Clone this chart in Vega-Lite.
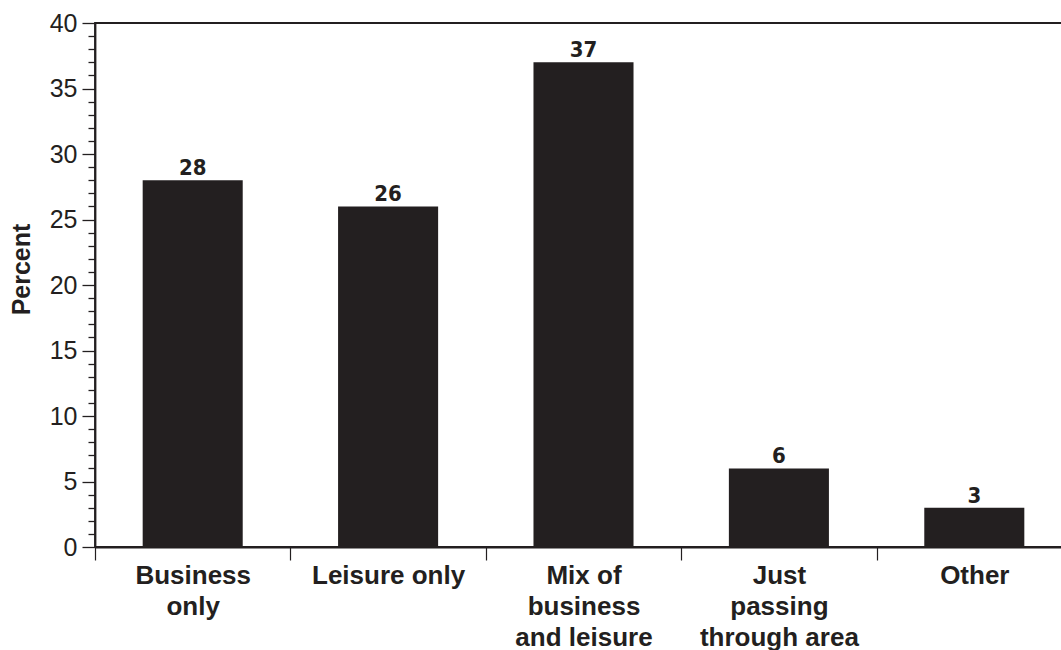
{
  "$schema": "https://vega.github.io/schema/vega-lite/v6.json",
  "autosize": "none",
  "padding": {"left": 95, "top": 23, "right": 0, "bottom": 104},
  "width": 968,
  "height": 524,
  "background": "white",
  "config": {
    "view": {"stroke": "#231f20", "strokeWidth": 1.8},
    "font": "Liberation Sans"
  },
  "data": {
    "values": [
      {"purpose": "Business only", "percent": 28},
      {"purpose": "Leisure only", "percent": 26},
      {"purpose": "Mix of business and leisure", "percent": 37},
      {"purpose": "Just passing through area", "percent": 6},
      {"purpose": "Other", "percent": 3}
    ]
  },
  "encoding": {
    "x": {
      "field": "purpose",
      "type": "nominal",
      "sort": null,
      "scale": {"paddingInner": 0, "paddingOuter": 0, "range": [0, 977]},
      "axis": {
        "title": null,
        "labelAngle": 0,
        "tickBand": "extent",
        "tickSize": 13,
        "tickColor": "#231f20",
        "tickWidth": 1.2,
        "domainColor": "#231f20",
        "domainWidth": 1.8,
        "labelFont": "Liberation Sans",
        "labelFontWeight": "bold",
        "labelFontSize": 26,
        "labelColor": "#231f20",
        "labelLineHeight": 31,
        "labelPadding": 2,
        "labelBaseline": "top",
        "labelOverlap": false,
        "labelExpr": "datum.value == 'Business only' ? ['Business', 'only'] : datum.value == 'Mix of business and leisure' ? ['Mix of', 'business', 'and leisure'] : datum.value == 'Just passing through area' ? ['Just', 'passing', 'through area'] : datum.value"
      }
    },
    "y": {
      "field": "percent",
      "type": "quantitative",
      "scale": {"domain": [0, 40], "nice": false},
      "axis": {
        "title": "Percent",
        "titleFont": "Liberation Sans",
        "titleFontWeight": "bold",
        "titleFontSize": 25,
        "titleColor": "#231f20",
        "titleAngle": -90,
        "titleAlign": "center",
        "titleBaseline": "middle",
        "titleX": -74,
        "titleY": 246,
        "values": [0, 1, 2, 3, 4, 5, 6, 7, 8, 9, 10, 11, 12, 13, 14, 15, 16, 17, 18, 19, 20, 21, 22, 23, 24, 25, 26, 27, 28, 29, 30, 31, 32, 33, 34, 35, 36, 37, 38, 39, 40],
        "grid": false,
        "tickSize": {"condition": {"test": "datum.value % 5 !== 0", "value": 7}, "value": 13},
        "tickColor": "#231f20",
        "tickWidth": 1.3,
        "domainColor": "#231f20",
        "domainWidth": 1.8,
        "labelExpr": "datum.value % 5 === 0 ? datum.label : ''",
        "labelFont": "Liberation Sans",
        "labelFontSize": 25,
        "labelColor": "#231f20",
        "labelPadding": 5,
        "labelOverlap": false,
        "labelFlush": false
      }
    }
  },
  "layer": [
    {
      "mark": {"type": "bar", "color": "#231f20", "width": {"band": 0.512}}
    },
    {
      "mark": {"type": "text", "font": "Liberation Sans Narrow, DejaVu Sans Condensed, Roboto, Liberation Sans, sans-serif", "fontWeight": "bold", "fontSize": 22, "color": "#231f20", "baseline": "alphabetic", "dy": -5},
      "encoding": {
        "text": {"field": "percent", "type": "quantitative"}
      }
    }
  ]
}
